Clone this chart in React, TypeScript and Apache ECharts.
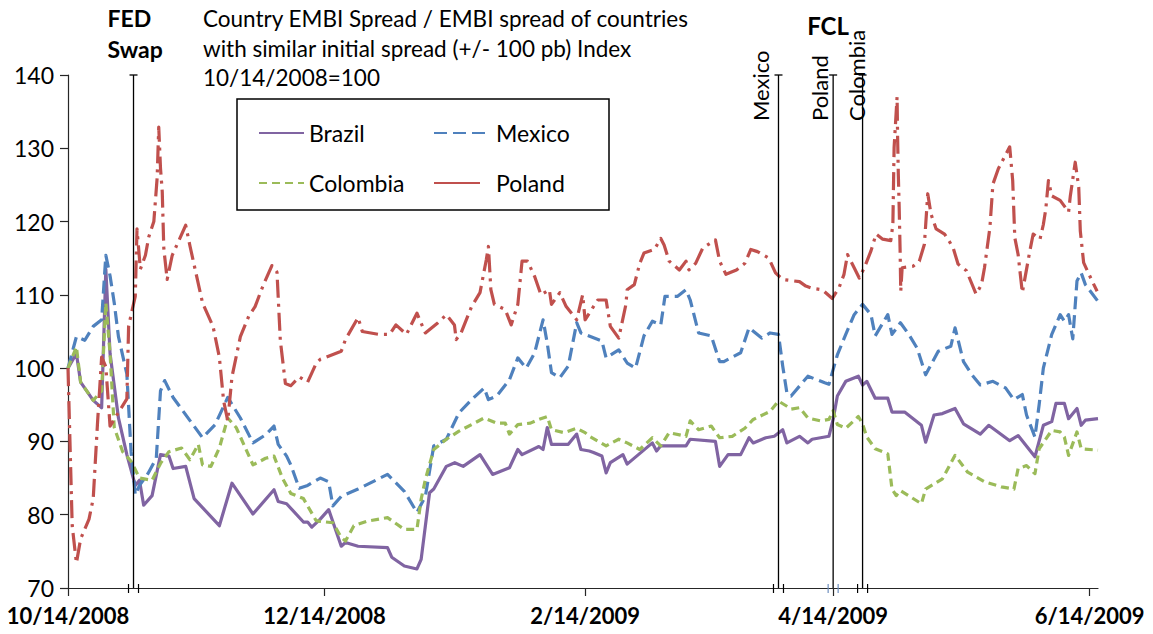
import React, { useEffect, useRef } from "react";
import * as echarts from "echarts";

type Pt = [string, number];

// ---- axis definitions ----
const tickDates = ["2008-10-14", "2008-12-14", "2009-02-14", "2009-04-14", "2009-06-14"];
const tickLabels = ["10/14/2008", "12/14/2008", "2/14/2009", "4/14/2009", "6/14/2009"];
const axisStart = "2008-10-14";
const axisEnd = "2009-06-16";
const yMin = 70;
const yMax = 140;
const yStep = 10;

// ---- event dates (vertical lines) ----
const fedSwapDate = "2008-10-29 14:00";
const mexicoFclDate = "2009-04-01";
const polandFclDate = "2009-04-14";
const colombiaFclDate = "2009-04-21";

const titleLines = [
  "Country EMBI Spread / EMBI spread of countries",
  "with similar initial spread (+/- 100 pb) Index",
  "10/14/2008=100",
];

// ---- series (index, 10/14/2008 = 100) ----
const brazil: Pt[] = [
  ["2008-10-14", 100], ["2008-10-16", 102], ["2008-10-17", 98.1], ["2008-10-20", 95.6], ["2008-10-22", 94.6],
  ["2008-10-23", 113.5], ["2008-10-24", 102], ["2008-10-26", 93.2], ["2008-10-28", 88.2], ["2008-10-30", 84],
  ["2008-10-31", 84.7], ["2008-11-01", 81.3], ["2008-11-03", 82.6], ["2008-11-05", 88.2], ["2008-11-07", 88],
  ["2008-11-08", 86.3], ["2008-11-11", 86.6], ["2008-11-13", 82.2], ["2008-11-19", 78.5], ["2008-11-22", 84.3],
  ["2008-11-27", 80.1], ["2008-12-02", 83.4], ["2008-12-03", 81.8], ["2008-12-05", 81.5], ["2008-12-09", 79],
  ["2008-12-10", 79], ["2008-12-11", 78.3], ["2008-12-13", 79.4], ["2008-12-15", 80.7], ["2008-12-18", 75.7],
  ["2008-12-19", 76.2], ["2008-12-22", 75.7], ["2008-12-29", 75.5], ["2008-12-30", 74.2], ["2009-01-02", 73],
  ["2009-01-05", 72.6], ["2009-01-06", 73.9], ["2009-01-08", 83], ["2009-01-09", 83.5], ["2009-01-12", 86.6],
  ["2009-01-14", 87.1], ["2009-01-16", 86.6], ["2009-01-20", 88.2], ["2009-01-23", 85.5], ["2009-01-27", 86.4],
  ["2009-01-29", 88.9], ["2009-01-30", 88.2], ["2009-02-03", 89.3], ["2009-02-04", 88.9], ["2009-02-05", 91.9],
  ["2009-02-06", 89.6], ["2009-02-10", 89.6], ["2009-02-12", 91], ["2009-02-13", 88.9], ["2009-02-15", 88.7],
  ["2009-02-16", 88.5], ["2009-02-18", 88], ["2009-02-19", 85.7], ["2009-02-20", 87.1], ["2009-02-23", 88.2],
  ["2009-02-24", 86.9], ["2009-03-02", 89.8], ["2009-03-03", 88.7], ["2009-03-04", 89.4], ["2009-03-10", 89.4],
  ["2009-03-11", 90.3], ["2009-03-17", 90], ["2009-03-18", 86.6], ["2009-03-20", 88.2], ["2009-03-23", 88.2],
  ["2009-03-25", 90.5], ["2009-03-26", 89.8], ["2009-03-29", 90.5], ["2009-03-31", 90.7], ["2009-04-02", 91.6],
  ["2009-04-03", 89.8], ["2009-04-06", 90.7], ["2009-04-08", 89.8], ["2009-04-09", 90.3], ["2009-04-13", 90.7],
  ["2009-04-14", 93], ["2009-04-15", 96.2], ["2009-04-17", 98.2], ["2009-04-20", 98.9], ["2009-04-21", 97.7],
  ["2009-04-22", 98.2], ["2009-04-24", 95.9], ["2009-04-27", 95.9], ["2009-04-28", 94], ["2009-05-01", 94],
  ["2009-05-05", 92.2], ["2009-05-06", 89.9], ["2009-05-08", 93.6], ["2009-05-10", 93.8], ["2009-05-13", 94.5],
  ["2009-05-15", 92.4], ["2009-05-19", 91], ["2009-05-21", 92.2], ["2009-05-26", 90.1], ["2009-05-28", 90.8],
  ["2009-06-01", 87.9], ["2009-06-03", 92.2], ["2009-06-05", 92.7], ["2009-06-06", 95.2], ["2009-06-08", 95.2],
  ["2009-06-09", 93.1], ["2009-06-11", 94.5], ["2009-06-12", 92.2], ["2009-06-13", 92.9], ["2009-06-16", 93.1],
];

const mexico: Pt[] = [
  ["2008-10-14", 100], ["2008-10-16", 104.3], ["2008-10-18", 103.8], ["2008-10-20", 105.7], ["2008-10-22", 106.6],
  ["2008-10-23", 115.4], ["2008-10-24", 112.6], ["2008-10-25", 108.9], ["2008-10-26", 104.3], ["2008-10-28", 99.2],
  ["2008-10-29", 88.6], ["2008-10-30", 82.7], ["2008-10-31", 84], ["2008-11-02", 85.6], ["2008-11-04", 87.7],
  ["2008-11-05", 96.9], ["2008-11-06", 98.3], ["2008-11-08", 96], ["2008-11-15", 90.5], ["2008-11-18", 92.3],
  ["2008-11-21", 96], ["2008-11-24", 93.2], ["2008-11-27", 89.8], ["2008-11-30", 90.9], ["2008-12-02", 92.1],
  ["2008-12-03", 89.6], ["2008-12-05", 88], ["2008-12-06", 86.8], ["2008-12-08", 83.6], ["2008-12-10", 84],
  ["2008-12-13", 85], ["2008-12-15", 84.5], ["2008-12-16", 81.2], ["2008-12-18", 82.5], ["2008-12-22", 83.5],
  ["2008-12-29", 85.5], ["2009-01-02", 83.2], ["2009-01-05", 80.3], ["2009-01-07", 82.5], ["2009-01-09", 89.4],
  ["2009-01-12", 90.3], ["2009-01-15", 93.9], ["2009-01-18", 95.7], ["2009-01-21", 97.3], ["2009-01-22", 95.7],
  ["2009-01-24", 96.2], ["2009-01-27", 98.4], ["2009-01-29", 101.4], ["2009-01-31", 100], ["2009-02-02", 102.1],
  ["2009-02-04", 106.6], ["2009-02-05", 103.4], ["2009-02-06", 99.4], ["2009-02-08", 98.7], ["2009-02-10", 100.3],
  ["2009-02-12", 106.2], ["2009-02-13", 104.8], ["2009-02-18", 103.7], ["2009-02-19", 101.4], ["2009-02-22", 102.5],
  ["2009-02-24", 100.7], ["2009-02-26", 100], ["2009-02-28", 104.4], ["2009-03-02", 106.4], ["2009-03-04", 105.9],
  ["2009-03-05", 109.8], ["2009-03-08", 109.8], ["2009-03-10", 110.7], ["2009-03-11", 109.3], ["2009-03-13", 104.8],
  ["2009-03-16", 104.4], ["2009-03-18", 100.9], ["2009-03-19", 100.9], ["2009-03-23", 102.1], ["2009-03-25", 105.5],
  ["2009-03-28", 104.1], ["2009-03-30", 104.8], ["2009-04-01", 104.6], ["2009-04-02", 100.3], ["2009-04-03", 96.6],
  ["2009-04-04", 96.2], ["2009-04-08", 98.9], ["2009-04-12", 98], ["2009-04-13", 97.8], ["2009-04-15", 101.8],
  ["2009-04-17", 104.6], ["2009-04-19", 107.3], ["2009-04-21", 108.7], ["2009-04-23", 107.3], ["2009-04-24", 104.4],
  ["2009-04-27", 107.3], ["2009-04-28", 104.6], ["2009-04-30", 106.2], ["2009-05-02", 104.6], ["2009-05-04", 102.7],
  ["2009-05-06", 99.1], ["2009-05-09", 102.3], ["2009-05-12", 103], ["2009-05-13", 105.5], ["2009-05-15", 100.9],
  ["2009-05-17", 99.1], ["2009-05-19", 97.7], ["2009-05-22", 98.2], ["2009-05-25", 97.3], ["2009-05-27", 95.7],
  ["2009-05-29", 96.4], ["2009-05-30", 93.6], ["2009-06-01", 90.6], ["2009-06-02", 95], ["2009-06-03", 100],
  ["2009-06-05", 104.6], ["2009-06-07", 107.3], ["2009-06-08", 106.4], ["2009-06-09", 107.3], ["2009-06-10", 104],
  ["2009-06-11", 111.9], ["2009-06-12", 113], ["2009-06-13", 111.4], ["2009-06-16", 109.1],
];

const colombia: Pt[] = [
  ["2008-10-14", 100], ["2008-10-16", 102.9], ["2008-10-17", 98.1], ["2008-10-20", 95.6], ["2008-10-22", 96.9],
  ["2008-10-23", 108.9], ["2008-10-24", 102], ["2008-10-25", 91.9], ["2008-10-27", 88.6], ["2008-10-29", 87.3],
  ["2008-10-31", 85], ["2008-11-03", 84.7], ["2008-11-05", 87], ["2008-11-07", 88.6], ["2008-11-10", 89.1],
  ["2008-11-12", 87.5], ["2008-11-14", 89.6], ["2008-11-15", 86.8], ["2008-11-17", 86.6], ["2008-11-19", 89.1],
  ["2008-11-21", 93.2], ["2008-11-23", 91.9], ["2008-11-27", 86.8], ["2008-11-30", 87.7], ["2008-12-02", 88],
  ["2008-12-04", 85], ["2008-12-06", 82.9], ["2008-12-09", 82.2], ["2008-12-12", 79.2], ["2008-12-13", 79.1],
  ["2008-12-16", 78.9], ["2008-12-18", 76.9], ["2008-12-19", 76.4], ["2008-12-21", 78.5], ["2008-12-24", 79.1],
  ["2008-12-29", 79.6], ["2009-01-02", 78], ["2009-01-05", 78], ["2009-01-06", 82.1], ["2009-01-07", 84.8],
  ["2009-01-09", 88.9], ["2009-01-12", 90.3], ["2009-01-15", 91.4], ["2009-01-21", 93.2], ["2009-01-24", 92.5],
  ["2009-01-26", 92.5], ["2009-01-27", 91], ["2009-01-29", 92.3], ["2009-02-01", 92.5], ["2009-02-03", 93],
  ["2009-02-05", 93.4], ["2009-02-06", 91.6], ["2009-02-09", 91.2], ["2009-02-12", 91.8], ["2009-02-14", 91.2],
  ["2009-02-15", 90.7], ["2009-02-19", 89.4], ["2009-02-22", 90.3], ["2009-02-24", 89.8], ["2009-02-27", 88.9],
  ["2009-03-02", 90.5], ["2009-03-04", 89.4], ["2009-03-06", 91.2], ["2009-03-10", 90.7], ["2009-03-11", 92.8],
  ["2009-03-13", 91.6], ["2009-03-16", 92.1], ["2009-03-18", 90.5], ["2009-03-21", 90.7], ["2009-03-24", 91.8],
  ["2009-03-26", 93], ["2009-03-30", 94.1], ["2009-04-01", 95.5], ["2009-04-03", 94.8], ["2009-04-04", 94.4],
  ["2009-04-06", 94.6], ["2009-04-08", 93.2], ["2009-04-11", 92.8], ["2009-04-13", 93], ["2009-04-14", 94.2],
  ["2009-04-15", 92.3], ["2009-04-17", 91.8], ["2009-04-20", 93.4], ["2009-04-21", 92.4], ["2009-04-22", 90.6],
  ["2009-04-24", 89], ["2009-04-27", 88.3], ["2009-04-28", 83.5], ["2009-04-29", 82.6], ["2009-04-30", 83.3],
  ["2009-05-05", 81.5], ["2009-05-06", 83.5], ["2009-05-10", 84.9], ["2009-05-13", 88.1], ["2009-05-16", 85.8],
  ["2009-05-20", 84.5], ["2009-05-24", 83.8], ["2009-05-27", 83.5], ["2009-05-28", 86.3], ["2009-05-30", 86.7],
  ["2009-06-01", 85.6], ["2009-06-02", 89], ["2009-06-05", 91.5], ["2009-06-07", 91.3], ["2009-06-08", 90.6],
  ["2009-06-09", 88.1], ["2009-06-11", 91.3], ["2009-06-12", 89], ["2009-06-16", 88.8],
];

const poland: Pt[] = [
  ["2008-10-14", 100], ["2008-10-15", 78.5], ["2008-10-16", 73.4], ["2008-10-17", 76.7], ["2008-10-19", 79.4],
  ["2008-10-20", 82.2], ["2008-10-21", 92.3], ["2008-10-22", 101.5], ["2008-10-23", 100.2], ["2008-10-24", 92.1],
  ["2008-10-28", 95.8], ["2008-10-28 10:00", 105.7], ["2008-10-29 05:00", 107.8], ["2008-10-30", 109.8],
  ["2008-10-30 10:00", 119], ["2008-10-31 05:00", 113.5], ["2008-11-01 10:00", 115.4], ["2008-11-02 05:00", 117.9],
  ["2008-11-03 10:00", 120], ["2008-11-04 05:00", 126], ["2008-11-04 14:00", 132.9], ["2008-11-05", 127.3],
  ["2008-11-05 10:00", 124.1], ["2008-11-05 19:00", 116.3], ["2008-11-06 14:00", 112.1], ["2008-11-07 19:00", 115.4],
  ["2008-11-11", 119.5], ["2008-11-12", 116.7], ["2008-11-15", 108.9], ["2008-11-17 12:00", 105.7],
  ["2008-11-19", 101.5], ["2008-11-20", 95.6], ["2008-11-21", 92.8], ["2008-11-22", 98.8], ["2008-11-24", 104.3],
  ["2008-11-26", 107.1], ["2008-11-27 12:00", 108.4], ["2008-11-29 12:00", 111.4], ["2008-12-01 12:00", 114],
  ["2008-12-02 17:00", 113.1], ["2008-12-03 12:00", 103.8], ["2008-12-04 17:00", 97.9], ["2008-12-06", 97.6],
  ["2008-12-08", 98.8], ["2008-12-10", 98.1], ["2008-12-12", 100.6], ["2008-12-13", 101.2], ["2008-12-18", 102.3],
  ["2008-12-19", 103.9], ["2008-12-22", 106.9], ["2008-12-23", 105], ["2008-12-27", 104.6], ["2008-12-29 12:00", 104.6],
  ["2008-12-31", 105.9], ["2009-01-02 12:00", 104.6], ["2009-01-05", 107.5], ["2009-01-07", 104.8], ["2009-01-10", 106.2],
  ["2009-01-12", 107.3], ["2009-01-13 22:00", 105.9], ["2009-01-14 08:00", 103.9], ["2009-01-15 12:00", 104.8],
  ["2009-01-18", 108.4], ["2009-01-20", 110.3], ["2009-01-21 12:00", 114.8], ["2009-01-22", 116.6],
  ["2009-01-22 14:00", 110.7], ["2009-01-23 10:00", 108.7], ["2009-01-26", 108], ["2009-01-27 10:00", 105.9],
  ["2009-01-29", 108.7], ["2009-01-30", 114.6], ["2009-01-31 07:00", 114.6], ["2009-02-02", 112.5],
  ["2009-02-03 12:00", 110], ["2009-02-05 12:00", 110.7], ["2009-02-06", 108.7], ["2009-02-08", 110.3],
  ["2009-02-09 12:00", 108.4], ["2009-02-12", 106.6], ["2009-02-13 10:00", 110], ["2009-02-14", 106.6],
  ["2009-02-17", 109.3], ["2009-02-19", 109.3], ["2009-02-20", 105.7], ["2009-02-22", 104.1], ["2009-02-23 17:00", 108.7],
  ["2009-02-24", 110.7], ["2009-02-25 17:00", 111.4], ["2009-02-27", 114.3], ["2009-02-28", 115.7],
  ["2009-03-02 12:00", 116.2], ["2009-03-04", 117.7], ["2009-03-04 19:00", 116.8], ["2009-03-06", 114.6],
  ["2009-03-08 10:00", 113.4], ["2009-03-10", 114.6], ["2009-03-10 17:00", 113.4], ["2009-03-12 07:00", 114.3],
  ["2009-03-14", 116.4], ["2009-03-17", 117.5], ["2009-03-18", 114.6], ["2009-03-19 12:00", 112.8], ["2009-03-22", 113.4],
  ["2009-03-24", 114.3], ["2009-03-25 10:00", 116.2], ["2009-03-27", 115.9], ["2009-03-29 17:00", 115],
  ["2009-03-31 07:00", 113], ["2009-04-02", 112.1], ["2009-04-06", 111.8], ["2009-04-07 12:00", 111.2],
  ["2009-04-09", 110.9], ["2009-04-11 10:00", 110.7], ["2009-04-13 19:00", 109.5], ["2009-04-15 10:00", 111],
  ["2009-04-16 14:00", 112.8], ["2009-04-17 10:00", 115.5], ["2009-04-19", 113.7], ["2009-04-20 05:00", 112.3],
  ["2009-04-21 10:00", 113.7], ["2009-04-23", 116], ["2009-04-24 05:00", 118.3], ["2009-04-25 19:00", 117.6],
  ["2009-04-27 17:00", 117.4], ["2009-04-28 05:00", 119.6], ["2009-04-28 12:00", 130.1], ["2009-04-29 05:00", 137],
  ["2009-04-29 08:00", 131.5], ["2009-04-29 12:00", 126.5], ["2009-04-29 17:00", 121.9], ["2009-04-29 22:00", 116.4],
  ["2009-04-30 02:00", 110.5], ["2009-04-30 10:00", 113.7], ["2009-05-03", 113.9], ["2009-05-04 12:00", 114.6],
  ["2009-05-05 17:00", 116.9], ["2009-05-06 12:00", 123.8], ["2009-05-07 07:00", 121], ["2009-05-08 12:00", 119],
  ["2009-05-10 12:00", 118.3], ["2009-05-12 12:00", 116.5], ["2009-05-13 17:00", 114.2], ["2009-05-15 17:00", 113.3],
  ["2009-05-18", 110.1], ["2009-05-19 07:00", 111.4], ["2009-05-20", 113.7], ["2009-05-21 07:00", 119.2],
  ["2009-05-22", 125.1], ["2009-05-23 07:00", 127.2], ["2009-05-26", 130.2], ["2009-05-26 17:00", 125.6],
  ["2009-05-27 05:00", 117.8], ["2009-05-28", 115.5], ["2009-05-29", 110.3], ["2009-05-30 19:00", 116],
  ["2009-05-31 14:00", 118.3], ["2009-06-02 05:00", 117.6], ["2009-06-03", 119.6], ["2009-06-03 14:00", 121.7],
  ["2009-06-04 05:00", 125.6], ["2009-06-05", 123.5], ["2009-06-07", 122.9], ["2009-06-09", 121.3],
  ["2009-06-09 10:00", 123.5], ["2009-06-10 14:00", 128.1], ["2009-06-11 10:00", 124.7], ["2009-06-11 19:00", 118.7],
  ["2009-06-12 14:00", 114.4], ["2009-06-14 14:00", 111.9], ["2009-06-15 19:00", 110.5],
];

const FONT = "Lato";

const ts = (s: string): number => {
  const [d, t] = s.split(" ");
  const [Y, M, D] = d.split("-").map(Number);
  const [h, m] = (t || "00:00").split(":").map(Number);
  return new Date(Y, M - 1, D, h, m).getTime();
};

const toData = (pts: Pt[]) => pts.map(([d, v]) => [ts(d), v]);

export default function App() {
  const ref = useRef<HTMLDivElement>(null);

  useEffect(() => {
    if (!ref.current) return;
    const chart = echarts.init(ref.current, null, { renderer: "svg" });
    const tickTs = tickDates.map(ts);

    const lineSeries = (name: string, data: Pt[], color: string, type: any, z: number) => ({
      name,
      type: "line",
      data: toData(data),
      symbol: "none",
      showSymbol: false,
      z,
      itemStyle: { color },
      lineStyle: { color, width: 3.2, type, join: "round", cap: "butt" },
    });

    const legendText = { fontFamily: FONT, fontSize: 23, color: "#000", lineHeight: 24 };
    const axisColor = "#262626";

    const option: any = {
      animation: false,
      backgroundColor: "#ffffff",
      grid: { left: 68, right: 55, top: 75, bottom: 46, containLabel: false },
      xAxis: {
        type: "value",
        min: ts(axisStart),
        max: ts(axisEnd),
        axisLine: { show: true, lineStyle: { color: axisColor, width: 1.2 } },
        axisTick: { show: true, inside: false, length: 8, customValues: tickTs, lineStyle: { color: axisColor, width: 1.2 } },
        axisLabel: {
          customValues: tickTs,
          margin: 16,
          fontFamily: FONT,
          fontWeight: "bold",
          fontSize: 22,
          color: "#000",
          showMinLabel: true,
          showMaxLabel: true,
          formatter: (v: number) => {
            const i = tickTs.findIndex((t) => Math.abs(t - v) < 3600 * 1000);
            return i >= 0 ? tickLabels[i] : "";
          },
        },
        splitLine: { show: false },
      },
      yAxis: {
        type: "value",
        min: yMin,
        max: yMax,
        interval: yStep,
        axisLine: { show: true, lineStyle: { color: axisColor, width: 1.2 } },
        axisTick: { show: true, inside: false, length: 8, lineStyle: { color: axisColor, width: 1.2 } },
        axisLabel: { margin: 14, fontFamily: FONT, fontSize: 23, color: "#000" },
        splitLine: { show: false },
      },
      legend: [
        {
          data: ["Brazil", "Colombia"],
          orient: "vertical",
          left: 253,
          top: 116,
          itemWidth: 45,
          itemHeight: 14,
          itemGap: 26,
          z: 10,
          itemStyle: { opacity: 0 },
          textStyle: legendText,
        },
        {
          data: ["Mexico", { name: "Poland", lineStyle: { type: [46, 30] } }],
          orient: "vertical",
          left: 428,
          top: 116,
          itemWidth: 57,
          itemHeight: 14,
          itemGap: 26,
          z: 10,
          itemStyle: { opacity: 0 },
          textStyle: legendText,
        },
      ],
      series: [
        lineSeries("Brazil", brazil, "#8064A2", "solid", 2),
        lineSeries("Mexico", mexico, "#4F81BD", [13, 6], 3),
        lineSeries("Colombia", colombia, "#9BBB59", [8, 5], 4),
        lineSeries("Poland", poland, "#C0504D", [18, 6, 3, 6], 5),
      ],
    };
    chart.setOption(option);

    const px = (d: string, v: number) => chart.convertToPixel({ gridIndex: 0 }, [ts(d), v]) as number[];
    const yTop = px(axisStart, yMax)[1];
    const yBot = px(axisStart, yMin)[1];
    const stroke = { stroke: "#000", lineWidth: 1.3 };

    const g: any[] = [];
    g.push({ type: "rect", shape: { x: 237, y: 99, width: 372, height: 111 }, style: { fill: "#fff", stroke: "#000", lineWidth: 1.5 }, z: 6 });

    const eventDates = [fedSwapDate, mexicoFclDate, polandFclDate, colombiaFclDate];
    const eventX = eventDates.map((d) => px(d, yMin)[0]);
    eventX.forEach((x, i) => {
      g.push({ type: "line", shape: { x1: x, y1: yTop, x2: x, y2: yBot }, style: stroke, z: 20 });
      g.push({ type: "line", shape: { x1: x - 4, y1: yTop, x2: x + 4, y2: yTop }, style: stroke, z: 20 });
      const tickColor = i === 2 ? "#6f8fbf" : "#000";
      [-5, 5].forEach((dx) =>
        g.push({ type: "line", shape: { x1: x + dx, y1: yBot - 4, x2: x + dx, y2: yBot + 5 }, style: { stroke: tickColor, lineWidth: 1.2 }, z: 20 })
      );
    });

    g.push({
      type: "text", x: 203, y: 4, z: 20,
      style: { text: titleLines.join("\n"), fontFamily: FONT, fontSize: 22.5, lineHeight: 29.5, fill: "#000", align: "left", verticalAlign: "top" },
    });
    g.push({
      type: "text", x: eventX[0] - 26, y: 2, z: 20,
      style: { text: "FED\nSwap", fontFamily: FONT, fontWeight: "bold", fontSize: 23, lineHeight: 31, fill: "#000", align: "left", verticalAlign: "top" },
    });
    g.push({
      type: "text", x: eventX[2] - 26, y: 25, z: 20,
      style: { text: "FCL", fontFamily: FONT, fontWeight: "bold", fontSize: 24, fill: "#000", align: "left", verticalAlign: "middle" },
    });
    const rot = [
      { text: "Mexico", x: eventX[1] - 18 },
      { text: "Poland", x: eventX[2] - 14 },
      { text: "Colombia", x: eventX[3] - 6 },
    ];
    rot.forEach((r) =>
      g.push({
        type: "text", x: r.x, y: 121, rotation: Math.PI / 2, z: 21,
        style: { text: r.text, fontFamily: FONT, fontSize: 22, fill: "#000", align: "left", verticalAlign: "middle" },
      })
    );

    chart.setOption({ graphic: g });

    return () => chart.dispose();
  }, []);

  return (
    <div
      ref={ref}
      style={{ position: "fixed", left: 0, top: 0, width: 1153, height: 634, background: "#fff" }}
    />
  );
}
